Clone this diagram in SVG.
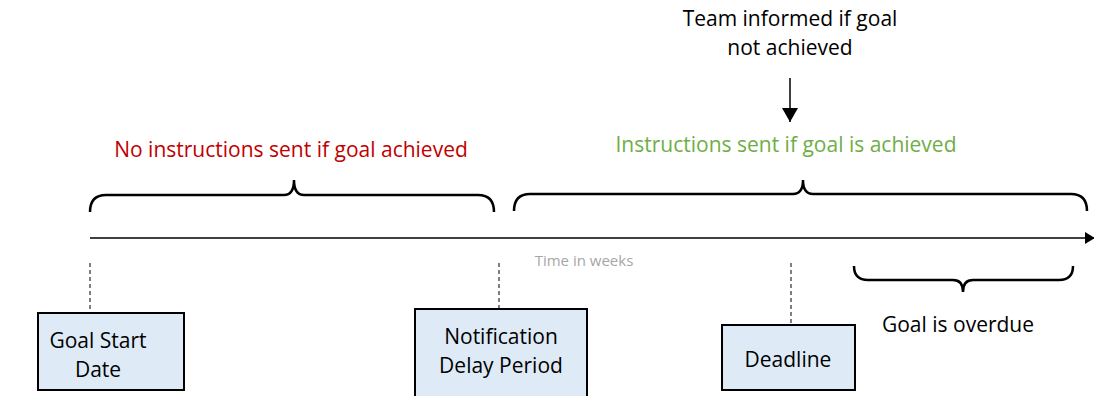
<svg xmlns="http://www.w3.org/2000/svg" width="1094" height="396" viewBox="0 0 1094 396">
<style>
text{font-family:"Open Sans","Liberation Sans",Arial,sans-serif;font-size:21px;fill:#000;text-anchor:middle}
.brace{fill:none;stroke:#000;stroke-width:2.5}
.box{fill:#DEEBF7;stroke:#000;stroke-width:2}
.dash{stroke:#000;stroke-width:1;stroke-dasharray:4,3}
</style>
<defs>
<marker id="ah" markerWidth="10" markerHeight="12" refX="9" refY="6" orient="auto" markerUnits="userSpaceOnUse">
<path d="M0,0 L10,6 L0,12 Z" fill="#000"/>
</marker>
<marker id="ah2" markerWidth="14" markerHeight="16" refX="14" refY="8" orient="auto" markerUnits="userSpaceOnUse">
<path d="M0,0 L14,8 L0,16 Z" fill="#000"/>
</marker>
</defs>
<g id="connectors">
<line x1="90" y1="238" x2="1094" y2="238" stroke="#000" stroke-width="1.5" marker-end="url(#ah)"/>
<line x1="790" y1="78" x2="790" y2="122" stroke="#000" stroke-width="1.5" marker-end="url(#ah2)"/>
<line class="dash" x1="90" y1="263" x2="90" y2="312"/>
<line class="dash" x1="499" y1="263" x2="499" y2="308"/>
<line class="dash" x1="791" y1="263" x2="791" y2="324"/>
</g>
<g id="brace-no-instructions">
<path class="brace" d="M90,212 Q90,195 106,195 L284,195 Q294,195 294,180 Q294,195 304,195 L478,195 Q494,195 494,212"/>
<text x="291" y="157" style="fill:#C00000">No instructions sent if goal achieved</text>
</g>
<g id="brace-instructions">
<path class="brace" d="M514,211 Q514,194 530,194 L793,194 Q803,194 803,180 Q803,194 813,194 L1071,194 Q1087,194 1087,211"/>
<text x="786" y="152" style="fill:#70AD47">Instructions sent if goal is achieved</text>
</g>
<g id="team-informed">
<text x="790" y="26">Team informed if goal</text>
<text x="790" y="55">not achieved</text>
</g>
<g id="time-label">
<text x="584" y="266" style="font-size:15px;fill:#A6A6A6">Time in weeks</text>
</g>
<g id="goal-start">
<rect class="box" x="38" y="313" width="146" height="77"/>
<text x="98" y="348">Goal Start</text>
<text x="98" y="377">Date</text>
</g>
<g id="notification-delay">
<rect class="box" x="415" y="309" width="172" height="92"/>
<text x="501" y="344">Notification</text>
<text x="501" y="373">Delay Period</text>
</g>
<g id="deadline">
<rect class="box" x="722" y="325" width="133" height="65"/>
<text x="788" y="367">Deadline</text>
</g>
<g id="overdue">
<path class="brace" d="M854,266 Q854,280 868,280 L953,280 Q963,280 963,292 Q963,280 973,280 L1059,280 Q1073,280 1073,266"/>
<text x="958" y="332">Goal is overdue</text>
</g>
</svg>
